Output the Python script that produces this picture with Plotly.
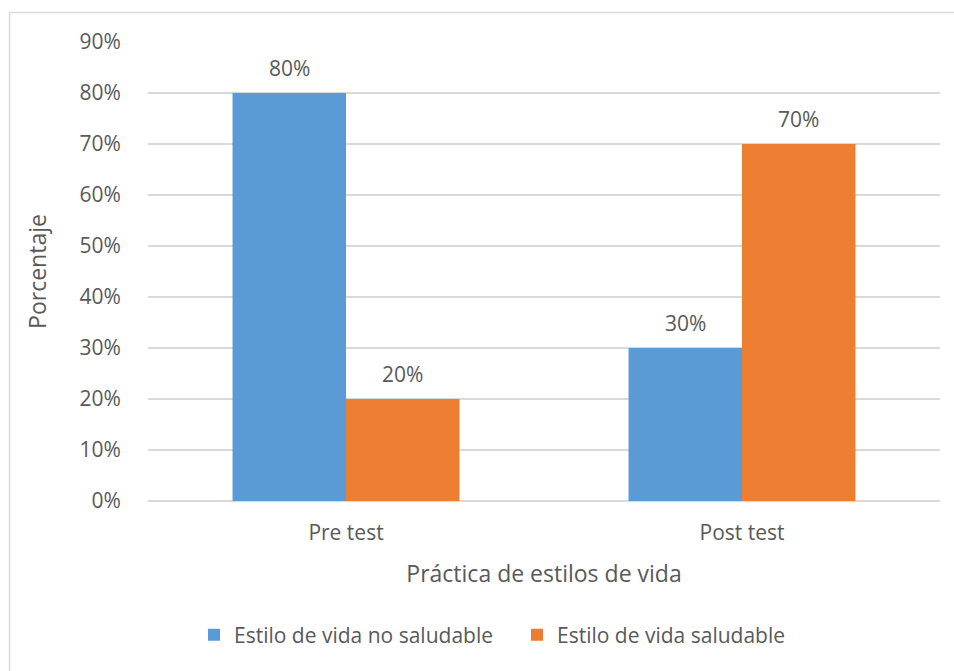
import plotly.graph_objects as go

# Categories and series values (fractions of 1)
categories = ["Pre test", "Post test"]
no_saludable = [0.80, 0.30]
saludable = [0.20, 0.70]
series_names = ["Estilo de vida no saludable", "Estilo de vida saludable"]
colors = ["#5B9BD5", "#ED7D31"]
y_ticks = [0, 0.1, 0.2, 0.3, 0.4, 0.5, 0.6, 0.7, 0.8, 0.9]

FONT = "Open Sans"
TXT = "#595959"
W, H = 954, 671
M_L, M_R, M_T, M_B = 148, 14, 42, 170
BARGAP = 0.427
TICK_SIZE = 21
TITLE_SIZE = 23
LEGEND_SIZE = 21

fig = go.Figure()
for name, vals, col in zip(series_names, [no_saludable, saludable], colors):
    fig.add_trace(go.Bar(
        x=categories, y=vals, name=name, marker=dict(color=col, line=dict(width=0)),
        hoverinfo="skip",
    ))

# Value labels above each bar
plot_w = W - M_L - M_R
plot_h = H - M_T - M_B
cat_px = plot_w / len(categories)
bar_px = cat_px * (1 - BARGAP) / 2
for i, vals in enumerate([no_saludable, saludable]):
    shift = (i - 0.5) * bar_px
    for c, v in zip(categories, vals):
        fig.add_annotation(
            x=c, y=v, text=f"{round(v * 100)}%", showarrow=False,
            xshift=shift, yshift=25, yanchor="middle",
            font=dict(family=FONT, size=TICK_SIZE, color=TXT),
        )

# Outer chart border
fig.add_shape(
    type="rect", xref="paper", yref="paper",
    x0=(9.5 - M_L) / plot_w, x1=(W + 10 - M_L) / plot_w,
    y0=-(H + 10 - (H - M_B)) / plot_h, y1=((H - M_B) - 12.5) / plot_h,
    line=dict(color="#D9D9D9", width=1.5), layer="below",
)

fig.update_layout(
    width=W, height=H,
    margin=dict(l=M_L, r=M_R, t=M_T, b=M_B, pad=0),
    paper_bgcolor="white", plot_bgcolor="white",
    barmode="group", bargap=BARGAP, bargroupgap=0,
    font=dict(family=FONT, size=TICK_SIZE, color=TXT),
    showlegend=True,
    legend=dict(
        orientation="h", x=(517 - M_L) / plot_w, xanchor="center",
        y=-(635 - (H - M_B)) / plot_h, yanchor="middle",
        font=dict(family=FONT, size=LEGEND_SIZE, color=TXT), itemwidth=30,
        entrywidth=278, entrywidthmode="pixels",
        traceorder="normal", itemclick=False,
    ),
    xaxis=dict(
        showgrid=False, showline=False, zeroline=False,
        ticks="outside", ticklen=13, tickcolor="rgba(0,0,0,0)",
        tickfont=dict(family=FONT, size=TICK_SIZE, color=TXT),
        title=dict(text="Práctica de estilos de vida", standoff=20,
                   font=dict(family=FONT, size=TITLE_SIZE, color=TXT)),
    ),
    yaxis=dict(
        range=[0, 0.9], tickvals=y_ticks, tickformat=".0%",
        showgrid=True, gridcolor="#D9D9D9", gridwidth=1.5,
        zeroline=True, zerolinecolor="#D9D9D9", zerolinewidth=1.5,
        showline=False,
        ticks="outside", ticklen=22, tickcolor="rgba(0,0,0,0)",
        tickfont=dict(family=FONT, size=TICK_SIZE, color=TXT),
        title=dict(text="Porcentaje", standoff=26,
                   font=dict(family=FONT, size=TITLE_SIZE, color=TXT)),
    ),
)

fig.write_html("out.html")
